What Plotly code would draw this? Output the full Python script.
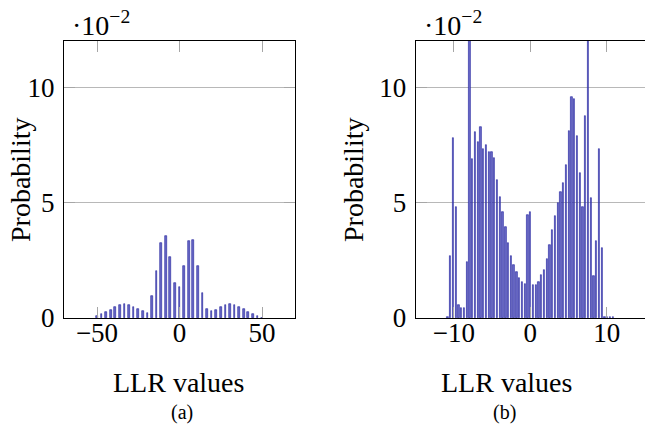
import plotly.graph_objects as go

W, H = 645, 434

# ---- data (probabilities) ----
left_llr = [-50.0, -47.2, -44.4, -41.7, -38.9, -36.1, -33.3, -30.6, -27.8, -25.0,
            -22.2, -19.4, -16.7, -13.9, -11.1, -8.3, -5.6, -2.8, 0.0, 2.8,
            5.6, 8.3, 11.1, 13.9, 16.7, 19.4, 22.2, 25.0, 27.8, 30.6,
            33.3, 36.1, 38.9, 41.7, 44.4, 47.2, 50.0]
left_prob = [0.0007, 0.0016, 0.0025, 0.0036, 0.0048, 0.0055, 0.0059, 0.0055, 0.0049, 0.0039,
             0.0029, 0.0023, 0.0094, 0.0204, 0.0323, 0.0355, 0.0264, 0.0152, 0.0133, 0.0225,
             0.0333, 0.0336, 0.0225, 0.0107, 0.0039, 0.0030, 0.0036, 0.0046, 0.0057, 0.0059,
             0.0057, 0.0049, 0.0038, 0.0026, 0.0017, 0.0009, 0.0002]

right_llr = [-10.82, -10.45, -10.09, -9.73, -9.37, -9.01, -8.65, -8.29, -7.93, -7.57,
             -7.21, -6.85, -6.49, -6.13, -5.77, -5.41, -5.05, -4.69, -4.33, -3.97,
             -3.61, -3.24, -2.88, -2.52, -2.16, -1.80, -1.44, -1.08, -0.72, -0.36,
             0.00, 0.36, 0.72, 1.08, 1.44, 1.80, 2.16, 2.52, 2.88, 3.24,
             3.61, 3.97, 4.33, 4.69, 5.05, 5.41, 5.77, 6.13, 6.49, 6.85,
             7.21, 7.57, 7.93, 8.29, 8.65, 9.01, 9.37, 9.73, 10.09, 10.45, 10.82]
right_prob = [0.0003, 0.0269, 0.0779, 0.0482, 0.0058, 0.0042, 0.0042, 0.0244, 0.1600, 0.0687,
              0.0804, 0.0762, 0.0829, 0.0730, 0.0750, 0.0717, 0.0721, 0.0694, 0.0598, 0.0525,
              0.0460, 0.0393, 0.0325, 0.0269, 0.0228, 0.0199, 0.0174, 0.0154, 0.0148, 0.0447,
              0.0459, 0.0142, 0.0144, 0.0157, 0.0186, 0.0208, 0.0254, 0.0318, 0.0382, 0.0440,
              0.0498, 0.0544, 0.0586, 0.0662, 0.0811, 0.0958, 0.0949, 0.0788, 0.0628, 0.0483,
              0.0875, 0.1500, 0.0522, 0.0183, 0.0333, 0.0731, 0.0305, 0.0006, 0.0005, 0.0004, 0.0003]

ytick_vals = [0, 0.05, 0.10]
ytick_text = ["0", "5", "10"]
left_xticks = [-50, 0, 50]
right_xticks = [-10, 0, 10]

FONT = "Liberation Serif, Times New Roman, DejaVu Serif, serif"
BAR_FILL = "#6a6ac6"
BAR_LINE = "#1f1f9c"
TICK_COL = "#a6a6a6"
GRID_COL = "#b8b8b8"

def px_x(p):
    return p / W

def px_y(p):
    return 1 - p / H

fig = go.Figure()
fig.add_trace(go.Bar(x=left_llr, y=left_prob, width=1.0, xaxis="x", yaxis="y",
                     marker=dict(color=BAR_FILL, line=dict(color=BAR_LINE, width=0.6)),
                     showlegend=False))
fig.add_trace(go.Bar(x=right_llr, y=right_prob, width=0.17, xaxis="x2", yaxis="y2",
                     marker=dict(color=BAR_FILL, line=dict(color=BAR_LINE, width=0.6)),
                     showlegend=False))

ydom = [px_y(318), px_y(41)]
common_x = dict(showline=True, linecolor="black", linewidth=1, mirror="ticks",
                ticks="inside", ticklen=11, tickcolor=TICK_COL, tickwidth=1,
                showgrid=False, zeroline=False, automargin=False,
                tickfont=dict(family=FONT, size=27, color="black"),
                ticklabelstandoff=-9)
common_y = dict(showline=True, linecolor="black", linewidth=1,
                ticks="inside", ticklen=11, tickcolor=TICK_COL, tickwidth=1,
                showgrid=True, gridcolor=GRID_COL, gridwidth=1, zeroline=False,
                automargin=False,
                range=[0, 0.12], tickvals=ytick_vals, ticktext=ytick_text,
                tickfont=dict(family=FONT, size=27, color="black"),
                ticklabelstandoff=3)

fig.update_layout(
    width=W, height=H,
    margin=dict(l=0, r=0, t=0, b=0, autoexpand=False),
    paper_bgcolor="white", plot_bgcolor="white",
    bargap=0,
    font=dict(family=FONT),
    xaxis=dict(domain=[px_x(64), px_x(295)], range=[-70, 70], tickvals=left_xticks,
               ticktext=["−50", "0", "50"], anchor="y", **common_x),
    yaxis=dict(domain=ydom, anchor="x", mirror="ticks", **common_y),
    xaxis2=dict(domain=[px_x(415.7), 1.0], range=[-15, 15], tickvals=right_xticks,
                ticktext=["−10", "0", "10"], anchor="y2", **common_x),
    yaxis2=dict(domain=ydom, anchor="x2", mirror=False, **common_y),
)

ann = []
def add_text(text, x, y, size, angle=0, xanchor="center", yanchor="middle"):
    ann.append(dict(text=text, x=px_x(x), y=px_y(y), xref="paper", yref="paper",
                    showarrow=False, textangle=angle, xanchor=xanchor, yanchor=yanchor,
                    font=dict(family=FONT, size=size, color="black")))

add_text("·10<sup>−2</sup>", 70, 24, 28, xanchor="left")
add_text("·10<sup>−2</sup>", 422, 24, 28, xanchor="left")
add_text("Probability", 20, 180, 28, angle=-90)
add_text("Probability", 353, 180, 28, angle=-90)
add_text("LLR values", 178, 382, 28)
add_text("LLR values", 506, 382, 28)
add_text("(a)", 182, 412, 20)
add_text("(b)", 505, 412, 20)
fig.update_layout(annotations=ann)

fig.write_html("out.html")
